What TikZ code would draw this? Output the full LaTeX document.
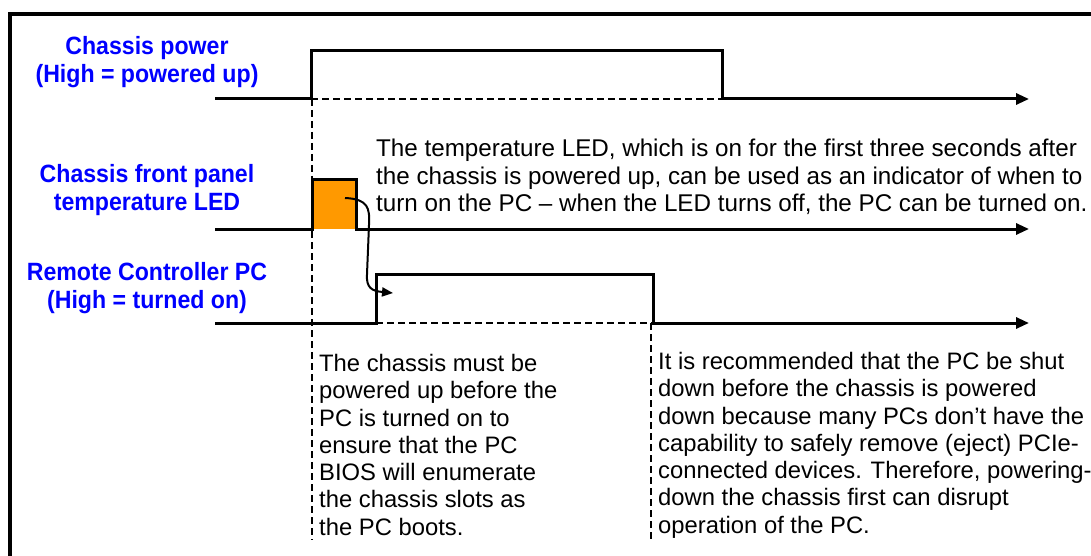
\documentclass[tikz,border=0pt]{standalone}
\usepackage{fontspec}
\setmainfont{Liberation Sans}
\newfontfamily\lblfont{Liberation Sans}[FakeStretch=0.925]
\usetikzlibrary{arrows.meta}
\definecolor{sigblue}{HTML}{0000FF}
\definecolor{ledorange}{HTML}{FF9900}

\begin{document}
\begin{tikzpicture}[x=1pt, y=-1pt,
  wave/.style={line width=3pt, line join=miter},
  sig/.style={wave, -{Triangle[length=13pt, width=11pt]}},
  guide/.style={line width=1.5pt, dash pattern=on 7pt off 4pt},
  lbl/.style={text=sigblue, font=\lblfont\fontsize{25}{28.5}\selectfont\bfseries, align=center, inner sep=0},
  note/.style={font=\fontsize{#1}{27.3}\selectfont, align=left, anchor=north west, inner sep=0},
  note/.default=23.8
]
  \useasboundingbox (0,0) rectangle (1091,556);
  \draw[line width=4pt] (10,556) -- (10,14) -- (1091,14);
  % signal names
  \node[lbl] (power) at (147,62) {Chassis power\\(High = powered up)};
  \node[lbl] (led) at (147,190) {Chassis front panel\\temperature LED};
  \node[lbl] (pc) at (147,288) {Remote Controller PC\\(High = turned on)};
  % guides
  \draw[guide] (311,99) -- (722,99);
  \draw[guide] (376,323) -- (653,323);
  \draw[guide] (312,99) -- (312,540);
  \draw[guide] (651,323) -- (651,540);
  % waveforms
  \fill[ledorange] (312,180) rectangle (356,229);
  \draw[sig] (215,99) -- (311,99) -- (311,51) -- (722,51) -- (722,99) -- (1029,99);
  \draw[sig] (215,229) -- (312,229) -- (312,180) -- (356,180) -- (356,229) -- (1029,229);
  \draw[sig] (215,323) -- (376,323) -- (376,274) -- (653,274) -- (653,323) -- (1029,323);
  % LED off -> PC on
  \coordinate (ledon) at (345,198);
  \coordinate (pcon) at (393,293);
  \draw[line width=2pt, -{Triangle[length=11pt, width=9pt]}] (ledon)
    .. controls (368,199) and (370,208) .. (369,225) -- (367,274)
    .. controls (366,288) and (372,291) .. (pcon);
  % notes
  \node[note=24.2] (ledtext) at (376,139) {The temperature LED, which is on for the first three seconds after\\the chassis is powered up, can be used as an indicator of when to\\turn on the PC -- when the LED turns off, the PC can be turned on.};
  \node[note] (ontext) at (319,354) {The chassis must be\\powered up before the\\PC is turned on to\\ensure that the PC\\BIOS will enumerate\\the chassis slots as\\the PC boots.};
  \node[note] (offtext) at (658,352) {It is recommended that the PC be shut\\down before the chassis is powered\\down because many PCs don’t have the\\capability to safely remove (eject) PCIe-\\connected devices. Therefore, powering-\\down the chassis first can disrupt\\operation of the PC.};
\end{tikzpicture}
\end{document}
